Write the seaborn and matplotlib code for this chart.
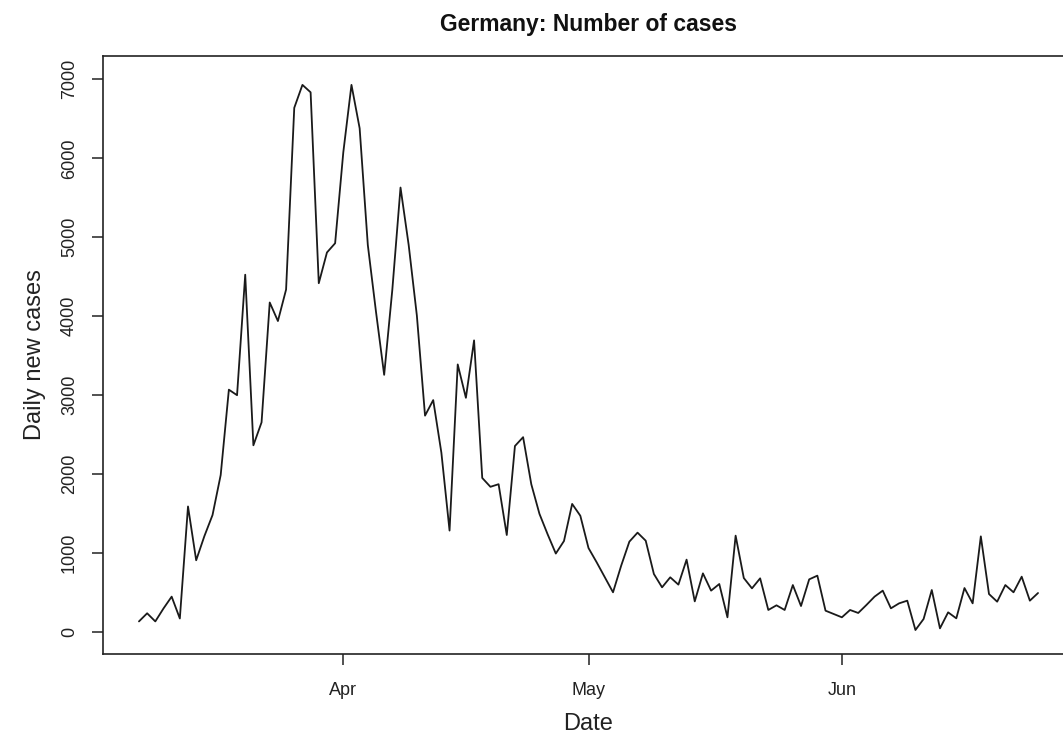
import pandas as pd
import matplotlib
matplotlib.use("Agg")
import matplotlib.pyplot as plt
import matplotlib.dates as mdates
import seaborn as sns

# Daily new COVID-19 cases reported in Germany, one value per day from 7 March
start_date = "2020-03-07"
daily_cases = [130, 233, 130, 294, 444, 167, 1587, 905, 1210, 1478,
               1986, 3067, 2997, 4524, 2362, 2653, 4172, 3937, 4336, 6639,
               6930, 6836, 4416, 4806, 4923, 6075, 6930, 6380, 4900, 4054,
               3255, 4336, 5629, 4900, 4007, 2738, 2935, 2268, 1281, 3387,
               2964, 3692, 1948, 1836, 1869, 1225, 2353, 2465, 1869, 1493,
               1234, 990, 1149, 1619, 1469, 1060, 879, 689, 499, 837,
               1141, 1255, 1153, 731, 562, 689, 596, 913, 384, 739,
               520, 604, 182, 1217, 680, 549, 676, 275, 334, 275,
               591, 325, 663, 710, 266, 224, 182, 275, 237, 338,
               444, 520, 296, 359, 393, 21, 161, 528, 42, 245,
               169, 553, 359, 1208, 477, 380, 591, 499, 697, 393, 490]

month_ticks = ["2020-04-01", "2020-05-01", "2020-06-01"]
month_labels = ["Apr", "May", "Jun"]
y_ticks = [0, 1000, 2000, 3000, 4000, 5000, 6000, 7000]

title = "Germany: Number of cases"
x_label = "Date"
y_label = "Daily new cases"

df = pd.DataFrame({
    "date": pd.date_range(start_date, periods=len(daily_cases), freq="D"),
    "cases": daily_cases,
})

sns.set_style("ticks")
plt.rcParams["font.family"] = ["Liberation Sans", "DejaVu Sans"]

W, H = 1063, 734
fig = plt.figure(figsize=(W / 100, H / 100), dpi=100)
left, right, top, bottom = 103, 1074, 56, 654
ax = fig.add_axes([left / W, 1 - bottom / H, (right - left) / W, (bottom - top) / H])

sns.lineplot(data=df, x="date", y="cases", ax=ax, color="#1a1a1a", linewidth=1.3)

# R-style 4% padding around the date range
d0 = mdates.date2num(df["date"].iloc[0])
d1 = mdates.date2num(df["date"].iloc[-1])
pad = 0.04 * (d1 - d0)
ax.set_xlim(d0 - pad, d1 + pad)
ax.set_ylim(-283, 7296)

ax.set_xticks([mdates.date2num(pd.Timestamp(t)) for t in month_ticks])
ax.set_xticklabels(month_labels)
ax.set_yticks(y_ticks)
ax.set_yticklabels([str(v) for v in y_ticks], rotation=90, va="center")

ax.tick_params(axis="both", which="major", direction="out", length=8, width=1.1,
               color="#222222", labelsize=13, labelcolor="#222222",
               bottom=True, left=True, top=False, right=False)
ax.tick_params(axis="x", pad=12)
ax.tick_params(axis="y", pad=10)

for sp in ax.spines.values():
    sp.set_color("#222222")
    sp.set_linewidth(1.2)
ax.spines["right"].set_visible(False)

ax.set_title(title, fontsize=16.5, fontweight="bold", color="#111111", pad=18)
ax.set_xlabel(x_label, fontsize=17, color="#222222", labelpad=10)
ax.set_ylabel(y_label, fontsize=17, color="#222222", labelpad=11)

fig.savefig("out.png", dpi=100, facecolor="white")
